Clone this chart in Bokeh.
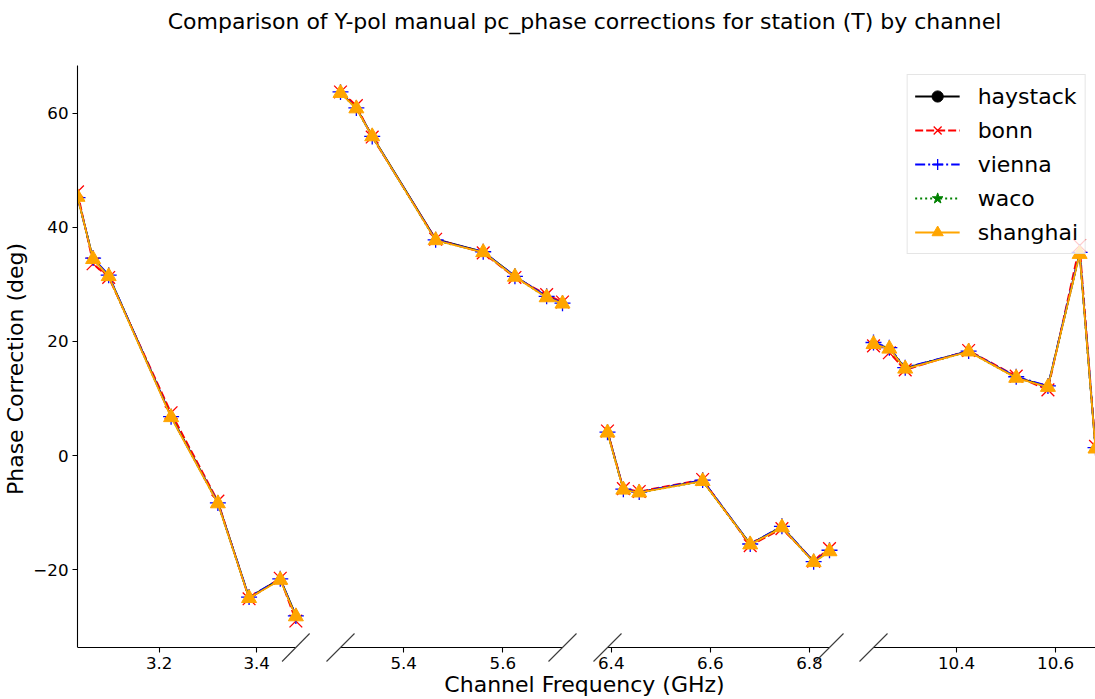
from bokeh.plotting import figure
from bokeh.layouts import column, row
from bokeh.models import Range1d, FixedTicker, Legend, LegendItem, Arrow
from bokeh.core.properties import value
from bokeh.embed import file_html
from bokeh.resources import INLINE

# ---------------- data ----------------
freq_ghz = [3.0324, 3.0644, 3.0964, 3.2244, 3.3204, 3.3844, 3.4484, 3.4804,
            5.2724, 5.3044, 5.3364, 5.4644, 5.5604, 5.6244, 5.6884, 5.7204,
            6.3924, 6.4244, 6.4564, 6.5844, 6.6804, 6.7444, 6.8084, 6.8404,
            10.2324, 10.2644, 10.2964, 10.4244, 10.5204, 10.5844, 10.6484, 10.6804]

haystack = [45.4, 34.5, 31.5, 6.9, -8.2, -24.9, -21.6, -28.0,
            63.6, 60.9, 56.0, 37.9, 35.7, 31.4, 27.8, 26.7,
            4.2, -5.9, -6.4, -4.4, -15.5, -12.5, -18.6, -16.7,
            19.6, 18.8, 15.3, 18.3, 13.7, 12.1, 35.5, 1.3]
bonn = [46.2, 33.6, 31.2, 7.5, -8.0, -25.1, -21.5, -29.0,
        63.7, 61.3, 55.8, 37.9, 35.5, 31.2, 28.2, 26.9,
        4.3, -5.8, -6.3, -4.2, -15.8, -12.8, -18.5, -16.3,
        19.2, 18.0, 15.0, 18.4, 13.9, 11.5, 36.8, 1.6]
vienna = [45.2, 34.6, 31.6, 6.8, -8.3, -24.8, -21.6, -28.1,
          63.7, 60.9, 55.9, 37.8, 35.7, 31.4, 27.9, 26.7,
          4.1, -5.9, -6.4, -4.3, -15.5, -12.4, -18.6, -16.6,
          19.8, 18.9, 15.4, 18.3, 13.8, 12.2, 35.6, 1.4]
waco = [45.3, 34.4, 31.4, 6.8, -8.4, -25.0, -21.7, -28.2,
        63.5, 60.8, 55.9, 37.7, 35.6, 31.3, 27.7, 26.6,
        4.0, -6.0, -6.5, -4.5, -15.6, -12.6, -18.7, -16.8,
        19.5, 18.7, 15.2, 18.2, 13.6, 12.0, 35.3, 1.2]
shanghai = [45.3, 34.4, 31.4, 6.7, -8.4, -25.0, -21.8, -28.2,
            63.5, 60.8, 55.9, 37.7, 35.6, 31.3, 27.7, 26.6,
            4.0, -6.0, -6.5, -4.5, -15.6, -12.6, -18.7, -16.8,
            19.5, 18.7, 15.2, 18.2, 13.6, 12.0, 35.3, 1.2]

station_names = ["haystack", "bonn", "vienna", "waco", "shanghai"]
station_values = [haystack, bonn, vienna, waco, shanghai]

x_ticks = [[3.2, 3.4], [5.4, 5.6], [6.4, 6.6, 6.8], [10.4, 10.6]]
y_ticks = [-20, 0, 20, 40, 60]

title_text = "Comparison of Y-pol manual pc_phase corrections for station (T) by channel"
x_label = "Channel Frequency (GHz)"
y_label = "Phase Correction (deg)"

# ---------------- styles ----------------
FONT = "DejaVu Sans"
styles = {
    "haystack": dict(color="black", dash="solid", marker="circle", size=6),
    "bonn": dict(color="red", dash="8 3", marker="x", size=18),
    "vienna": dict(color="blue", dash="10 3 2 3", marker="cross", size=16),
    "waco": dict(color="green", dash="2 3", marker="star", size=8),
    "shanghai": dict(color="orange", dash="solid", marker="triangle", size=15),
}

# split channel indices into bands (break where the frequency gap is large)
band_idx = []
start = 0
for i in range(1, len(freq_ghz)):
    if freq_ghz[i] - freq_ghz[i - 1] > 0.5:
        band_idx.append((start, i))
        start = i
band_idx.append((start, len(freq_ghz)))

all_vals = [v for s in station_values for v in s]
ymin, ymax = min(all_vals), max(all_vals)
pad = 0.05 * (ymax - ymin)
y_lo, y_hi = ymin - pad, ymax + pad

# layout in pixels
PANEL_W = 222          # width of each broken-axis panel
PANEL_H = 582          # height of the data area
TOP = 20               # space above the data area
BELOW = 25             # room below the x-axis line for ticks / labels
fig_left = [73, 0, 0, 0]       # y-axis panel (first figure only)
pad_l = [0, 23, 23, 22]        # frame padding left of each panel
pad_r = [22, 22, 22, 0]        # frame padding right of each panel
y_scale = (y_hi - y_lo) / PANEL_H

panels = []
legend_items = []
for k, (i0, i1) in enumerate(band_idx):
    fx = freq_ghz[i0:i1]
    lo, hi = fx[0], fx[-1]
    xs = (hi - lo) / PANEL_W
    frame_w = pad_l[k] + PANEL_W + pad_r[k]
    p = figure(width=fig_left[k] + frame_w, height=TOP + PANEL_H + BELOW,
               x_range=Range1d(lo - pad_l[k] * xs, hi + pad_r[k] * xs),
               y_range=Range1d(y_lo - BELOW * y_scale, y_hi),
               output_backend="svg", toolbar_location=None,
               y_axis_location="left" if k == 0 else None,
               min_border_left=fig_left[k], min_border_right=0,
               min_border_top=TOP, min_border_bottom=0)
    p.outline_line_color = None
    p.grid.visible = False
    p.background_fill_color = "white"
    p.border_fill_color = "white"

    for name, vals in zip(station_names, station_values):
        st = styles[name]
        fy = vals[i0:i1]
        lr = p.line(fx, fy, line_color=st["color"], line_width=1.8,
                    line_dash=st["dash"])
        if st["marker"] in ("x", "cross"):
            sr = p.scatter(fx, fy, marker=st["marker"], size=st["size"],
                           line_color=st["color"], line_width=1.3, fill_color=None)
        else:
            sr = p.scatter(fx, fy, marker=st["marker"], size=st["size"],
                           line_color=st["color"], fill_color=st["color"], line_width=1)
        if k == len(band_idx) - 1:
            legend_items.append(LegendItem(label=name, renderers=[lr, sr]))

    xa = p.xaxis[0]
    xa.fixed_location = y_lo
    xa.bounds = (lo, hi)
    xa.ticker = FixedTicker(ticks=x_ticks[k])
    xa.minor_tick_line_color = None
    xa.major_tick_out = 5
    xa.major_tick_in = 0
    xa.major_label_standoff = 4
    xa.axis_line_color = "black"
    xa.axis_line_width = 1.1
    xa.major_tick_line_width = 1.1
    xa.major_label_text_font = FONT
    xa.major_label_text_font_size = "16.7px"
    xa.major_label_text_color = "black"

    if k == 0:
        ya = p.yaxis[0]
        ya.bounds = (y_lo, y_hi)
        ya.ticker = FixedTicker(ticks=y_ticks)
        ya.major_label_overrides = {t: (("\u2212" + str(-t)) if t < 0 else str(t)) for t in y_ticks}
        ya.minor_tick_line_color = None
        ya.major_tick_out = 5
        ya.major_tick_in = 0
        ya.major_label_standoff = 4
        ya.axis_line_color = "black"
        ya.axis_line_width = 1.1
        ya.major_tick_line_width = 1.1
        ya.major_label_text_font = FONT
        ya.major_label_text_font_size = "16.7px"
        ya.major_label_text_color = "black"
        ya.axis_label = y_label
        ya.axis_label_text_font = FONT
        ya.axis_label_text_font_size = "22px"
        ya.axis_label_text_font_style = "normal"
        ya.axis_label_text_color = "black"
        ya.axis_label_standoff = 2

    # break marks at the inner ends of the bottom axis
    dx = 14 * xs
    dy = 14 * y_scale
    ends = []
    if k > 0:
        ends.append(lo)
    if k < len(band_idx) - 1:
        ends.append(hi)
    for xe in ends:
        p.add_layout(Arrow(x_start=xe - dx, y_start=y_lo - dy, x_end=xe + dx, y_end=y_lo + dy,
                           end=None, line_color="#3a3a3a", line_width=1.1))
    panels.append(p)

legend = Legend(items=legend_items, location="top_right",
                label_text_font=FONT, label_text_font_size="22px",
                label_text_color="black",
                glyph_width=45, glyph_height=28, label_height=28,
                label_standoff=18, spacing=6, padding=7, margin=9,
                border_line_color="#cccccc", border_line_width=1,
                background_fill_color="white", background_fill_alpha=0.8)
panels[-1].add_layout(legend)

total_w = sum(fig_left) + sum(pad_l) + sum(pad_r) + PANEL_W * len(band_idx)
HEADER_H = 45
FOOTER_H = 699 - HEADER_H - (TOP + PANEL_H + BELOW)
center_x = (fig_left[0] + total_w) / 2

header = figure(width=total_w, height=HEADER_H, x_range=Range1d(0, total_w),
                y_range=Range1d(HEADER_H, 0), output_backend="svg", toolbar_location=None,
                x_axis_location=None, y_axis_location=None, min_border=0)
header.outline_line_color = None
header.grid.visible = False
header.text(x=[center_x], y=[21], text=[title_text],
            text_font=value(FONT), text_font_size="22px", text_color="black",
            text_align="center", text_baseline="middle")

footer = figure(width=total_w, height=FOOTER_H, x_range=Range1d(0, total_w),
                y_range=Range1d(FOOTER_H, 0), output_backend="svg", toolbar_location=None,
                x_axis_location=None, y_axis_location=None, min_border=0)
footer.outline_line_color = None
footer.grid.visible = False
footer.text(x=[center_x], y=[12], text=[x_label],
            text_font=value(FONT), text_font_size="22px", text_color="black",
            text_align="center", text_baseline="middle")

layout = column(header, row(*panels), footer)
open("out.html", "w").write(file_html(layout, INLINE))
